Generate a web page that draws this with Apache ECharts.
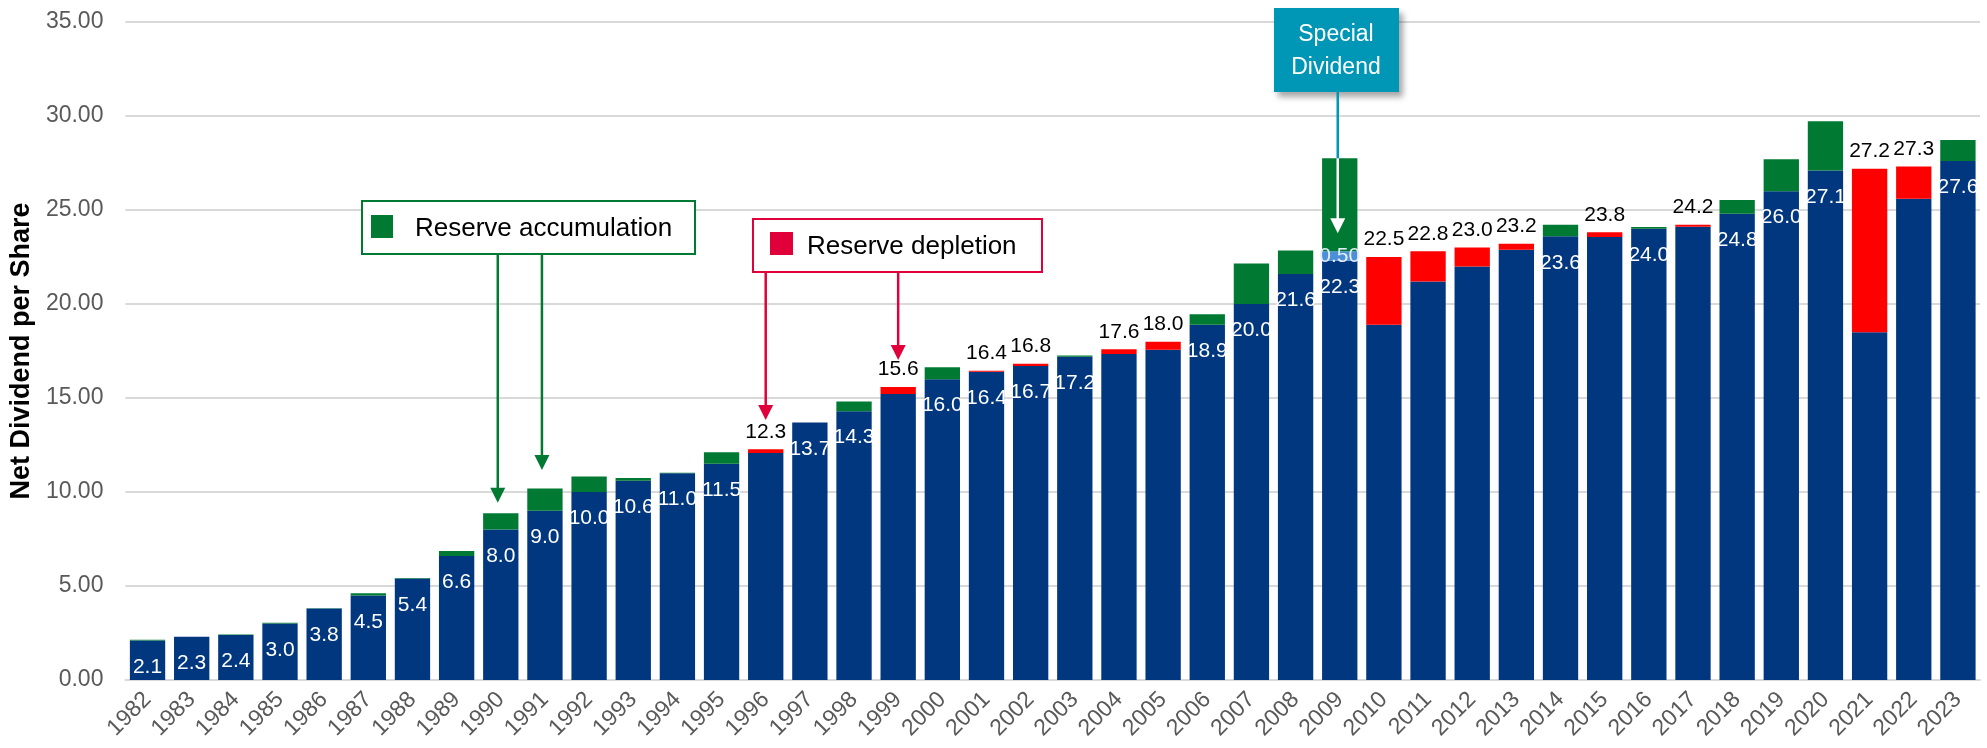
<!DOCTYPE html>
<html>
<head>
<meta charset="utf-8">
<title>Net Dividend per Share</title>
<script src="https://cdn.jsdelivr.net/npm/echarts@6/dist/echarts.min.js"></script>
<style>
  html, body { margin: 0; padding: 0; background: #fff; }
  #chart { width: 1987px; height: 748px; }
</style>
</head>
<body>
<div id="chart"></div>
<script>
// categories
const years = ['1982', '1983', '1984', '1985', '1986', '1987', '1988', '1989', '1990', '1991',
    '1992', '1993', '1994', '1995', '1996', '1997', '1998', '1999', '2000', '2001',
    '2002', '2003', '2004', '2005', '2006', '2007', '2008', '2009', '2010', '2011',
    '2012', '2013', '2014', '2015', '2016', '2017', '2018', '2019', '2020', '2021',
    '2022', '2023'];

// net dividend paid from the year's earnings (dark blue)
const baseDividend = [2.1, 2.3, 2.4, 3.0, 3.8, 4.5, 5.4, 6.6, 8.0, 9.0,
    10.0, 10.6, 11.0, 11.5, 12.07, 13.7, 14.3, 15.21, 16.0, 16.4,
    16.7, 17.2, 17.34, 17.57, 18.9, 20.0, 21.6, 22.3, 18.9, 21.2,
    22.0, 22.89, 23.6, 23.56, 24.0, 24.11, 24.8, 26.0, 27.1, 18.5,
    25.6, 27.6];

// special dividend (light blue)
const specialDividend = [0, 0, 0, 0, 0, 0, 0, 0, 0, 0,
    0, 0, 0, 0, 0, 0, 0, 0, 0, 0,
    0, 0, 0, 0, 0, 0, 0, 0.5, 0, 0,
    0, 0, 0, 0, 0, 0, 0, 0, 0, 0,
    0, 0];

// reserve depletion (red)
const reserveDepletion = [0, 0, 0, 0, 0, 0, 0, 0, 0, 0,
    0, 0, 0, 0, 0.2, 0, 0, 0.38, 0, 0.05,
    0.12, 0, 0.25, 0.42, 0, 0, 0, 0, 3.6, 1.6,
    1.0, 0.32, 0, 0.25, 0, 0.1, 0, 0, 0, 8.7,
    1.72, 0];

// reserve accumulation (green)
const reserveAccumulation = [0.04, 0, 0.02, 0.05, 0.02, 0.12, 0.02, 0.26, 0.87, 1.18,
    0.83, 0.15, 0.03, 0.62, 0, 0, 0.52, 0, 0.64, 0,
    0, 0.06, 0, 0, 0.55, 2.16, 1.25, 4.95, 0, 0,
    0, 0, 0.62, 0, 0.1, 0, 0.73, 1.7, 2.62, 0,
    0, 1.12];

// white labels inside the blue bars
const baseLabelShown = [1, 1, 1, 1, 1, 1, 1, 1, 1, 1,
    1, 1, 1, 1, 0, 1, 1, 0, 1, 1,
    1, 1, 0, 0, 1, 1, 1, 1, 0, 0,
    0, 0, 1, 0, 1, 0, 1, 1, 1, 0,
    0, 1];

// black labels above the depletion years
const totalLabels = [null, null, null, null, null, null, null, null, null, null,
    null, null, null, null, '12.3', null, null, '15.6', null, '16.4',
    '16.8', null, '17.6', '18.0', null, null, null, null, '22.5', '22.8',
    '23.0', '23.2', null, '23.8', null, '24.2', null, null, null, '27.2',
    '27.3', null];

// arrow tips (value coordinate) for the annotations
const accumulationArrows = [['1990', 9.43], ['1991', 11.17]];
const depletionArrows = [['1996', 13.83], ['1999', 17.02]];
const specialArrow = ['2009', 23.76];

const BLUE = '#00377f';
const LIGHT_BLUE = '#4b8fd8';
const RED = '#ff0000';
const GREEN = '#007a33';
const CRIMSON = '#e0003a';
const TEAL = '#0096b6';
const FONT = "'Liberation Sans', Arial, sans-serif";

const chart = echarts.init(document.getElementById('chart'));

chart.setOption({
    backgroundColor: '#ffffff',
    animation: false,
    grid: { left: 119, right: 7, top: 22, bottom: 68 },
    xAxis: {
        type: 'category',
        data: years,
        axisLine: { lineStyle: { color: '#d9d9d9', width: 2 } },
        axisTick: { show: false },
        axisLabel: { rotate: 45, interval: 0, color: '#595959', fontSize: 23, fontFamily: FONT, margin: 16 }
    },
    yAxis: {
        type: 'value',
        min: 0, max: 35, interval: 5,
        name: 'Net Dividend per Share',
        nameLocation: 'middle',
        nameGap: 80,
        nameTextStyle: { color: '#000', fontSize: 27, fontWeight: 'bold', fontFamily: FONT },
        axisLine: { show: false },
        axisTick: { show: false },
        axisLabel: { color: '#595959', fontSize: 23, fontFamily: FONT, margin: 22, formatter: v => v.toFixed(2) },
        splitLine: { lineStyle: { color: '#d9d9d9', width: 2 } }
    },
    series: [
        {
            name: 'Dividend', type: 'bar', stack: 'dps', barCategoryGap: '20%',
            itemStyle: { color: BLUE },
            data: baseDividend.map((v, i) => ({ value: v, label: { show: !!baseLabelShown[i] } })),
            label: {
                position: 'insideTop', distance: 16, color: '#fff', fontSize: 21, fontFamily: FONT,
                formatter: p => p.value.toFixed(1)
            }
        },
        {
            name: 'Special Dividend', type: 'bar', stack: 'dps',
            itemStyle: { color: LIGHT_BLUE },
            data: specialDividend.map(v => ({ value: v, label: { show: v > 0 } })),
            label: { position: 'inside', color: '#e4eefa', fontSize: 21, fontFamily: FONT, formatter: p => p.value.toFixed(2) }
        },
        {
            name: 'Reserve depletion', type: 'bar', stack: 'dps',
            itemStyle: { color: RED },
            data: reserveDepletion.map((v, i) => ({ value: v, label: { show: totalLabels[i] !== null } })),
            label: {
                position: 'top', distance: 7, color: '#000', fontSize: 21, fontFamily: FONT,
                formatter: p => totalLabels[p.dataIndex]
            }
        },
        {
            name: 'Reserve accumulation', type: 'bar', stack: 'dps',
            itemStyle: { color: GREEN },
            data: reserveAccumulation
        }
    ]
});

// annotations: legend boxes and arrows pointing at the bars
function toPx(year, v) {
    return chart.convertToPixel({ gridIndex: 0 }, [year, v]);
}

function arrow(x, y0, y1, color) {
    return [
        { type: 'line', z: 100, shape: { x1: x, y1: y0, x2: x, y2: y1 - 14 }, style: { stroke: color, lineWidth: 2.5 } },
        { type: 'polygon', z: 100, shape: { points: [[x - 7.5, y1 - 15], [x + 7.5, y1 - 15], [x, y1]] }, style: { fill: color } }
    ];
}

const g = [];

// Reserve accumulation box
g.push({ type: 'rect', z: 90, shape: { x: 362, y: 201, width: 333, height: 53 }, style: { fill: '#fff', stroke: GREEN, lineWidth: 2 } });
g.push({ type: 'rect', z: 100, shape: { x: 371, y: 215, width: 22, height: 23 }, style: { fill: GREEN } });
g.push({ type: 'text', z: 100, x: 415, y: 229, style: { text: 'Reserve accumulation', fill: '#000', font: '26px ' + FONT, verticalAlign: 'middle' } });
accumulationArrows.forEach(([yr, tip]) => {
    const p = toPx(yr, tip);
    g.push(...arrow(p[0] - 3, 254, p[1], GREEN));
});

// Reserve depletion box
g.push({ type: 'rect', z: 90, shape: { x: 753, y: 219, width: 289, height: 53 }, style: { fill: '#fff', stroke: CRIMSON, lineWidth: 2 } });
g.push({ type: 'rect', z: 100, shape: { x: 770, y: 232, width: 23, height: 23 }, style: { fill: CRIMSON } });
g.push({ type: 'text', z: 100, x: 807, y: 247, style: { text: 'Reserve depletion', fill: '#000', font: '26px ' + FONT, verticalAlign: 'middle' } });
depletionArrows.forEach(([yr, tip]) => {
    const p = toPx(yr, tip);
    g.push(...arrow(p[0], 272, p[1], CRIMSON));
});

// Special dividend callout
g.push({
    type: 'rect', z: 90, shape: { x: 1274, y: 8, width: 125, height: 84 },
    style: { fill: TEAL, shadowBlur: 6, shadowOffsetX: 4, shadowOffsetY: 5, shadowColor: 'rgba(0,0,0,0.35)' }
});
g.push({
    type: 'text', z: 100, x: 1336, y: 51,
    style: { text: 'Special\nDividend', fill: '#fff', font: '23px ' + FONT, align: 'center', verticalAlign: 'middle', lineHeight: 33 }
});
(function () {
    const i = years.indexOf(specialArrow[0]);
    const top = baseDividend[i] + specialDividend[i] + reserveDepletion[i] + reserveAccumulation[i];
    const pTop = toPx(specialArrow[0], top);
    const pTip = toPx(specialArrow[0], specialArrow[1]);
    const x = pTop[0] - 2;
    g.push({ type: 'line', z: 100, shape: { x1: x, y1: 92, x2: x, y2: pTop[1] }, style: { stroke: TEAL, lineWidth: 2.5 } });
    g.push(...arrow(x, pTop[1], pTip[1], '#ffffff'));
})();

chart.setOption({ graphic: g });

window.addEventListener('resize', () => chart.resize());
</script>
</body>
</html>
